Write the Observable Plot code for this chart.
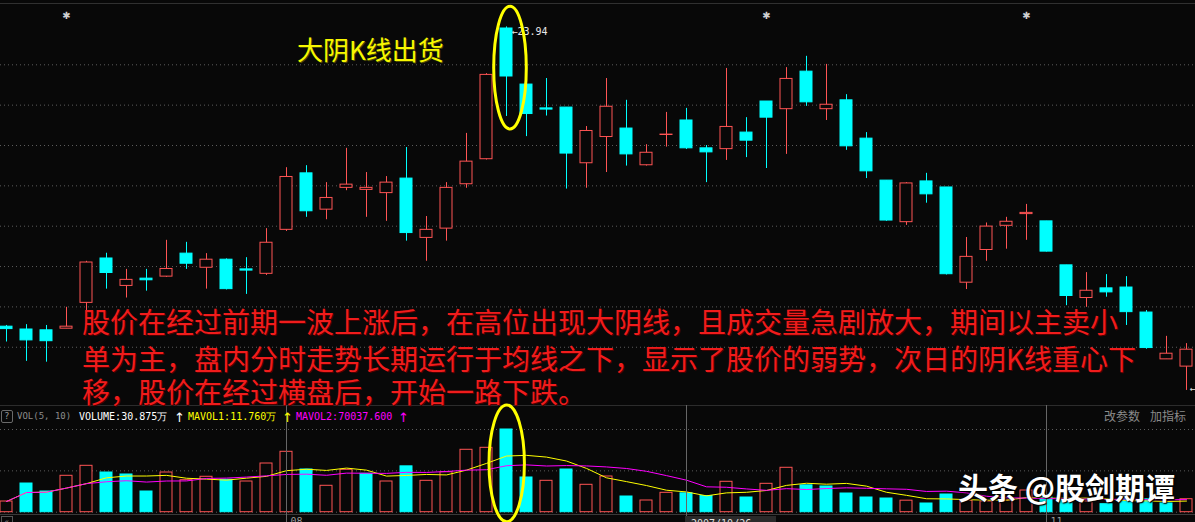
<!DOCTYPE html>
<html>
<head>
<meta charset="utf-8">
<script src="https://cdn.jsdelivr.net/npm/d3@7"></script>
<script src="https://cdn.jsdelivr.net/npm/@observablehq/plot@0.6"></script>
<style>
  html, body { margin: 0; padding: 0; background: #080808; }
  #chart { position: relative; width: 1195px; height: 522px; overflow: hidden; background: #080808;
           font-family: "Noto Sans CJK SC", "Noto Sans", sans-serif; }
  #chart .abs { position: absolute; white-space: nowrap; line-height: 1; }
  #chart .hline { position: absolute; left: 0; width: 1195px; height: 1px; }
  #chart .mono { font-family: "DejaVu Sans Mono", monospace; font-size: 10px; }
  #chart svg { position: absolute; left: 0; overflow: visible; }
</style>
</head>
<body>
<div id="chart"></div>
<script>
// Daily K-line data (60 sessions), price in yuan
const opens  = [16.51,16.44,16.42,16.46,17.10,18.20,17.52,17.70,17.75,18.32,
                17.97,18.17,17.93,17.82,18.91,20.31,19.41,19.95,19.90,19.82,
                20.18,18.71,18.94,20.04,20.66,23.90,22.51,21.92,21.94,20.56,
                21.21,21.42,20.51,21.26,21.62,20.93,20.91,21.32,22.09,21.90,
                22.83,21.90,22.12,21.17,20.13,19.10,20.11,19.96,17.60,18.41,
                19.01,19.30,19.12,18.03,17.22,17.46,17.48,16.86,15.70,15.52];
const highs  = [16.54,16.56,16.54,16.99,18.13,18.33,17.93,17.93,18.65,18.60,
                18.32,18.19,18.22,18.94,20.45,20.50,20.08,20.93,20.33,20.23,
                20.95,19.24,20.08,21.30,22.78,23.94,22.53,22.66,21.94,21.47,
                22.66,22.12,21.02,21.82,21.92,21.00,22.91,21.69,22.09,22.93,
                23.21,23.01,22.26,21.32,20.13,20.08,20.31,19.96,18.72,19.08,
                19.22,19.54,19.12,18.03,17.85,17.80,17.75,16.91,16.27,16.09];
const lows   = [16.13,15.65,15.63,16.46,16.91,17.44,17.22,17.39,17.73,17.93,
                17.44,17.42,17.31,17.78,18.87,19.22,19.16,19.88,19.22,19.12,
                18.63,18.13,18.63,19.94,20.64,21.72,21.22,21.73,19.92,19.94,
                20.33,20.49,20.49,20.96,20.90,20.08,20.63,20.70,20.43,20.78,
                21.97,21.62,20.88,20.18,19.12,19.02,19.57,17.79,17.43,18.13,
                18.43,18.65,18.36,17.03,16.99,17.24,16.54,15.95,15.70,14.93];
const closes = [16.45,16.17,16.15,16.51,18.10,17.84,17.67,17.66,17.94,18.07,
                18.17,17.44,17.90,18.59,20.22,19.37,19.70,20.03,19.95,20.08,
                18.83,18.91,19.95,20.60,22.75,22.71,21.78,21.89,20.80,21.36,
                21.96,20.78,20.82,21.27,20.93,20.83,21.46,21.12,21.69,22.65,
                22.07,22.01,20.98,20.36,19.14,20.06,19.79,17.81,18.24,18.99,
                19.11,19.33,18.37,17.27,17.40,17.36,16.87,15.98,15.84,15.94];

// Volume in 万 shares, and its colour class (R = up session, C = down session)
const volumes = [3.99,10.71,7.73,13.59,17.32,14.82,14.08,7.73,14.82,11.95,
                 13.22,12.10,11.46,18.18,22.55,15.94,9.86,15.83,14.34,11.46,
                 17.12,11.72,14.93,23.30,24.04,30.875,12.96,11.72,15.94,10.23,
                 13.33,5.86,4.37,7.24,7.04,6.05,11.35,5.49,10.60,16.58,
                 10.02,9.60,6.98,5.49,5.11,4.30,3.25,6.61,4.22,4.00,
                 4.37,8.10,5.49,4.37,4.00,2.99,4.85,4.85,3.25,4.85];
const volumeSide = ["RCCRRCCCRR","RCRRRCRRCR","CRRRRCCRCR",
                    "RCRRCCRCRR","CCCCCRCCRR","RRCCRCCCCR"].join("").split("");

const priceGrid = [23, 22, 21, 20, 19, 18, 17, 16];
const volumeGrid = [0, 15.44, 30.875];
const starSessions = [3, 38, 51];
const peakSession = 25;
const lastSession = 59;
const dateTicks = [{i: 14, label: "08"}, {i: 52, label: "11"}];
const cursorSession = 34;
const cursorDate = "2007/10/26";

const title = "大阴K线出货";
const commentLines = [
  "股价在经过前期一波上涨后，在高位出现大阴线，且成交量急剧放大，期间以主卖小",
  "单为主，盘内分时走势长期运行于均线之下，显示了股价的弱势，次日的阴K线重心下",
  "移，股价在经过横盘后，开始一路下跌。"
];
const header = [
  {text: "VOL(5, 10)", color: "#8c8c8c", left: 17, size: 9},
  {text: "VOLUME:30.875万", color: "#ffffff", left: 79},
  {text: "↑", color: "#ffffff", left: 174, arrow: true},
  {text: "MAVOL1:11.760万", color: "#ffff00", left: 188},
  {text: "↑", color: "#ffff00", left: 282, arrow: true},
  {text: "MAVOL2:70037.600", color: "#ff00ff", left: 296},
  {text: "↑", color: "#ff00ff", left: 398, arrow: true}
];
const toolLabels = [{text: "改参数", left: 1104}, {text: "加指标", left: 1150}];
const watermark = "头条 @股剑期谭";

const RED = "#ff5454", CYAN = "#00ffff", BG = "#080808", GRID = "#5c5c5c";
const W = 1195;
const xDomain = [-0.3, 59.45];

const candles = opens.map((o, i) => ({
  i, open: o, high: highs[i], low: lows[i], close: closes[i], up: closes[i] >= o
}));
const vols = volumes.map((v, i) => ({i, vol: v, up: volumeSide[i] === "R"}));

const chart = document.getElementById("chart");

// frame lines
for (const [top, color] of [[3, "#303030"], [405, "#2c2c2c"], [514, "#3a3a3a"]]) {
  const d = document.createElement("div");
  d.className = "hline";
  d.style.top = top + "px";
  d.style.background = color;
  chart.appendChild(d);
}

// ---- price panel ----
const price = Plot.plot({
  width: W, height: 405, margin: 0,
  x: {domain: xDomain, axis: null},
  y: {domain: [14.5564, 24.5936], axis: null},
  color: {type: "identity"},
  style: {background: "transparent"},
  marks: [
    Plot.ruleY(priceGrid, {stroke: GRID, strokeDasharray: "1,3"}),
    Plot.ruleX(candles, {x: "i", y1: "low", y2: "high", stroke: d => d.up ? RED : CYAN}),
    Plot.rect(candles, {
      x1: d => d.i - 0.3, x2: d => d.i + 0.3, y1: "open", y2: "close",
      fill: d => d.up ? BG : CYAN, stroke: d => d.up ? RED : CYAN
    }),
    Plot.text(starSessions, {x: d => d, frameAnchor: "top", dy: 11, text: () => "✱",
      fill: "#cfcfcf", fontSize: 10, fontFamily: "DejaVu Sans"}),
    Plot.text([peakSession], {x: d => d, y: d => highs[d], text: d => "←" + highs[d].toFixed(2),
      textAnchor: "start", dx: 5, dy: 5, fill: "#e8e8e8", fontSize: 10,
      fontFamily: "DejaVu Sans Mono"}),
    Plot.text([lastSession], {x: d => d, y: d => lows[d], text: d => "←" + lows[d].toFixed(2),
      textAnchor: "start", dx: 3, dy: -2, fill: "#e8e8e8", fontSize: 10,
      fontFamily: "DejaVu Sans Mono"})
  ]
});
price.style.top = "0px";
chart.appendChild(price);

// highlight ring around the large bearish candle
{
  const sx = price.scale("x"), sy = price.scale("y");
  const top = sy.apply(highs[peakSession]) - 20, bottom = sy.apply(lows[peakSession]) + 13;
  d3.select(price).append("ellipse")
    .attr("cx", sx.apply(peakSession) + 4).attr("cy", (top + bottom) / 2)
    .attr("rx", 16.3).attr("ry", (bottom - top) / 2)
    .attr("fill", "none").attr("stroke", "#ffff00").attr("stroke-width", 3);
}

// ---- volume panel ----
const volume = Plot.plot({
  width: W, height: 117, margin: 0,
  x: {domain: xDomain, axis: null},
  y: {domain: [-3.845, 39.836], axis: null},
  color: {type: "identity"},
  style: {background: "transparent"},
  marks: [
    Plot.ruleY(volumeGrid, {stroke: GRID, strokeDasharray: "1,3"}),
    Plot.rect(vols, {
      x1: d => d.i - 0.3, x2: d => d.i + 0.3, y1: 0, y2: "vol",
      fill: d => d.up ? BG : CYAN, stroke: d => d.up ? RED : CYAN
    }),
    Plot.lineY(vols, Plot.windowY({k: 5, anchor: "end", reduce: "mean"},
      {x: "i", y: "vol", stroke: "#ffff00", strokeWidth: 1})),
    Plot.lineY(vols, Plot.windowY({k: 10, anchor: "end", reduce: "mean"},
      {x: "i", y: "vol", stroke: "#ff00ff", strokeWidth: 1})),
    Plot.tickX(dateTicks.concat([{i: cursorSession}]), {x: "i", y1: -0.9, y2: -2.3, stroke: "#666"}),
    Plot.text(dateTicks, {x: "i", frameAnchor: "bottom", dy: -5, dx: 4, text: "label",
      textAnchor: "start", lineAnchor: "top", fill: "#9a9a9a", fontSize: 10,
      fontFamily: "DejaVu Sans Mono"})
  ]
});
volume.style.top = "405px";
chart.appendChild(volume);

{
  const sx = volume.scale("x"), sy = volume.scale("y");
  const top = sy.apply(volumes[peakSession]) - 24, bottom = sy.apply(0) + 10;
  d3.select(volume).append("ellipse")
    .attr("cx", sx.apply(peakSession) + 0.7).attr("cy", (top + bottom) / 2)
    .attr("rx", 17.7).attr("ry", (bottom - top) / 2)
    .attr("fill", "none").attr("stroke", "#ffff00").attr("stroke-width", 3);

  // cursor date box
  const cx = sx.apply(cursorSession);
  const box = document.createElement("div");
  box.className = "abs mono";
  Object.assign(box.style, {left: (cx - 1) + "px", top: "516px", width: "91px", height: "10px",
    background: "#2a2a2a", color: "#e0e0e0", paddingLeft: "6px", paddingTop: "3px", boxSizing: "border-box"});
  box.textContent = cursorDate;
  chart.appendChild(box);
}

// ---- html text ----
function addText(text, style) {
  const d = document.createElement("div");
  d.className = "abs";
  d.textContent = text;
  Object.assign(d.style, style);
  chart.appendChild(d);
  return d;
}

addText(title, {left: "297px", top: "36px", fontSize: "26px", color: "#f7f700",
  textShadow: "1px 1px 0 #4a4a00"});

const lineTops = [307, 344, 377];
commentLines.forEach((t, k) => addText(t, {left: "82px", top: lineTops[k] + "px",
  fontSize: "28px", color: "#f01c1c", textShadow: "1px 1px 0 #4a0000"}));

// indicator header
addText("?", {left: "1px", top: "410px", width: "10px", height: "11px", border: "1px solid #6a6a6a",
  borderRadius: "2px", color: "#9a9a9a", fontSize: "9px", lineHeight: "11px", textAlign: "center",
  fontFamily: "DejaVu Sans"});
header.forEach(h => {
  const d = addText(h.text, {left: h.left + "px", top: h.arrow ? "411px" : "412px", color: h.color});
  if (h.arrow) { d.style.fontFamily = "DejaVu Sans"; d.style.fontSize = "13px"; }
  else { d.classList.add("mono"); if (h.size) d.style.fontSize = h.size + "px"; }
});
toolLabels.forEach(t => addText(t.text, {left: t.left + "px", top: "410px", fontSize: "12px", color: "#8a8a8a"}));

addText("«", {left: "1px", top: "516px", width: "10px", height: "10px", border: "1px solid #555",
  color: "#888", fontSize: "9px", textAlign: "center"});

addText(watermark, {left: "958px", top: "471px", fontSize: "30px", fontWeight: "bold", color: "#ffffff",
  textShadow: "0 0 3px rgba(0,0,0,0.9), 1px 1px 1px #000"});
</script>
</body>
</html>
